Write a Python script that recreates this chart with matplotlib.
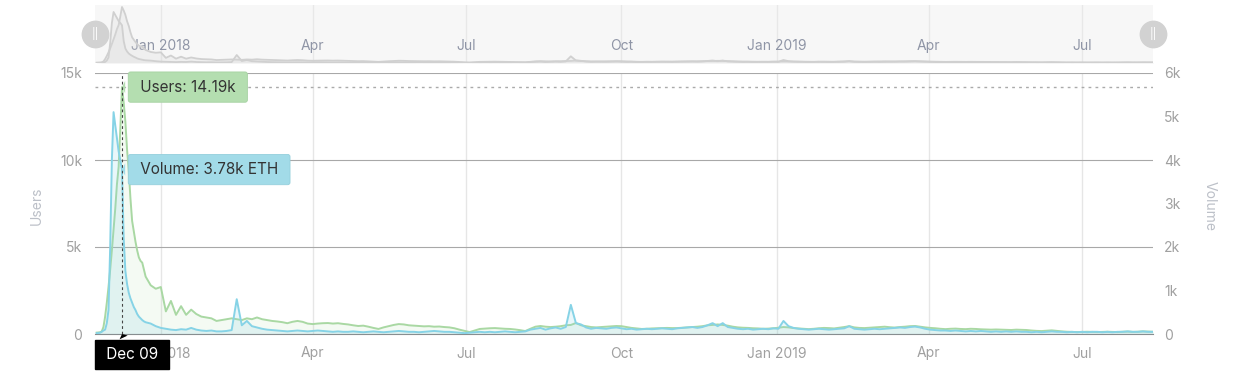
import matplotlib
matplotlib.use("Agg")
import matplotlib.pyplot as plt
import pandas as pd

plt.rcParams['font.family'] = ['Inter', 'DejaVu Sans']

# daily values around the launch peak (Nov 24 - Dec 23, 2017), in thousands
users_a = [0.08, 0.09, 0.1, 0.15, 0.4, 1.0, 1.8, 2.7, 3.7, 4.8,
           6.0, 7.2, 8.6, 9.6, 11.8, 14.19, 13.3, 12.2, 10.6, 9.4,
           7.8, 6.5, 5.9, 5.3, 4.8, 4.4, 4.2, 4.1, 3.7, 3.3]
volume_a = [0.02, 0.02, 0.03, 0.05, 0.08, 0.1, 0.25, 0.55, 2.0, 4.0,
            5.1, 4.8, 4.5, 4.2, 4.0, 3.78, 2.2, 1.45, 1.15, 0.95,
            0.82, 0.72, 0.62, 0.55, 0.46, 0.4, 0.36, 0.32, 0.29, 0.27]

# every 3 days from Dec 26, 2017, in thousands
users_b = [2.8, 2.6, 2.7, 1.3, 1.9, 1.1, 1.6, 1.1, 1.4, 1.15,
           1.0, 0.95, 0.9, 0.75, 0.8, 0.85, 0.9, 0.85, 0.8, 0.9,
           0.85, 0.95, 0.85, 0.8, 0.75, 0.72, 0.68, 0.62, 0.7, 0.75,
           0.7, 0.6, 0.57, 0.6, 0.62, 0.63, 0.6, 0.62, 0.58, 0.55,
           0.5, 0.46, 0.48, 0.42, 0.35, 0.29, 0.38, 0.45, 0.52, 0.57,
           0.55, 0.5, 0.48, 0.46, 0.44, 0.45, 0.42, 0.43, 0.4, 0.38,
           0.33, 0.25, 0.18, 0.11, 0.2, 0.29, 0.31, 0.33, 0.34, 0.32,
           0.3, 0.29, 0.26, 0.22, 0.17, 0.3, 0.42, 0.46, 0.42, 0.4,
           0.42, 0.45, 0.5, 0.52, 0.63, 0.5, 0.45, 0.4, 0.38, 0.4,
           0.42, 0.44, 0.46, 0.45, 0.4, 0.35, 0.32, 0.29, 0.3, 0.32,
           0.33, 0.34, 0.35, 0.34, 0.34, 0.36, 0.38, 0.4, 0.42, 0.45,
           0.5, 0.52, 0.55, 0.52, 0.48, 0.42, 0.38, 0.36, 0.35, 0.33,
           0.32, 0.3, 0.31, 0.33, 0.36, 0.4, 0.38, 0.34, 0.32, 0.3,
           0.28, 0.3, 0.33, 0.35, 0.34, 0.32, 0.36, 0.4, 0.45, 0.38,
           0.35, 0.34, 0.36, 0.38, 0.4, 0.42, 0.39, 0.37, 0.4, 0.42,
           0.45, 0.46, 0.42, 0.38, 0.35, 0.33, 0.3, 0.28, 0.3, 0.31,
           0.29, 0.28, 0.3, 0.29, 0.27, 0.26, 0.25, 0.26, 0.25, 0.24,
           0.23, 0.25, 0.24, 0.23, 0.2, 0.18, 0.17, 0.19, 0.21, 0.18,
           0.15, 0.13, 0.12, 0.11, 0.12, 0.13, 0.12, 0.11, 0.12, 0.13,
           0.12, 0.11, 0.13, 0.14, 0.12, 0.13, 0.15, 0.14, 0.13]
volume_b = [0.24, 0.18, 0.14, 0.12, 0.1, 0.09, 0.11, 0.1, 0.14, 0.1,
            0.08, 0.07, 0.08, 0.06, 0.06, 0.07, 0.09, 0.8, 0.2, 0.3,
            0.18, 0.15, 0.12, 0.1, 0.09, 0.08, 0.07, 0.06, 0.07, 0.08,
            0.07, 0.06, 0.07, 0.08, 0.07, 0.06, 0.05, 0.06, 0.05, 0.05,
            0.06, 0.05, 0.04, 0.05, 0.06, 0.05, 0.04, 0.05, 0.06, 0.07,
            0.06, 0.05, 0.05, 0.04, 0.05, 0.06, 0.07, 0.06, 0.05, 0.05,
            0.04, 0.03, 0.02, 0.03, 0.04, 0.05, 0.04, 0.05, 0.04, 0.05,
            0.06, 0.05, 0.04, 0.05, 0.06, 0.1, 0.12, 0.14, 0.1, 0.13,
            0.15, 0.12, 0.16, 0.67, 0.25, 0.22, 0.15, 0.12, 0.14, 0.13,
            0.12, 0.14, 0.15, 0.13, 0.11, 0.12, 0.1, 0.11, 0.12, 0.11,
            0.12, 0.13, 0.12, 0.11, 0.13, 0.14, 0.15, 0.16, 0.14, 0.16,
            0.2, 0.25, 0.18, 0.25, 0.16, 0.14, 0.12, 0.11, 0.12, 0.1,
            0.11, 0.12, 0.11, 0.13, 0.12, 0.3, 0.18, 0.14, 0.12, 0.11,
            0.1, 0.11, 0.12, 0.11, 0.1, 0.11, 0.12, 0.13, 0.18, 0.12,
            0.11, 0.1, 0.11, 0.12, 0.11, 0.12, 0.13, 0.14, 0.15, 0.14,
            0.16, 0.17, 0.15, 0.12, 0.1, 0.09, 0.08, 0.08, 0.07, 0.08,
            0.07, 0.06, 0.07, 0.06, 0.07, 0.06, 0.05, 0.06, 0.05, 0.06,
            0.05, 0.06, 0.05, 0.05, 0.04, 0.05, 0.04, 0.05, 0.06, 0.05,
            0.05, 0.04, 0.05, 0.04, 0.05, 0.04, 0.05, 0.05, 0.04, 0.05,
            0.04, 0.05, 0.05, 0.06, 0.05, 0.05, 0.06, 0.05, 0.05]

dates = pd.date_range('2017-11-24', periods=len(users_a), freq='D').append(
    pd.date_range('2017-12-26', periods=len(users_b), freq='3D'))
users = users_a + users_b
volume = volume_a + volume_b

tick_dates = pd.to_datetime(['2018-01-01', '2018-04-01', '2018-07-01', '2018-10-01',
                             '2019-01-01', '2019-04-01', '2019-07-01'])
tick_labels = ['Jan 2018', 'Apr', 'Jul', 'Oct', 'Jan 2019', 'Apr', 'Jul']

hover_date = pd.Timestamp('2017-12-09')
hover_users = 14.19
hover_volume = 3.78

x_start = pd.Timestamp('2017-11-23')
x_end = pd.Timestamp('2019-08-12')

GREEN = '#a9d8a3'
CYAN = '#86d3e6'

W, H = 1238, 380
fig = plt.figure(figsize=(W / 100, H / 100), dpi=100)
L, R = 95 / W, 1153 / W
ax = fig.add_axes([L, 1 - 334 / H, R - L, (334 - 73) / H])
ax2 = ax.twinx()
nav = fig.add_axes([L, 1 - 63 / H, R - L, (63 - 5) / H])
nav2 = nav.twinx()

# main chart
ax.fill_between(dates, users, color=GREEN, alpha=0.12, lw=0)
ax.plot(dates, users, color=GREEN, lw=1.4)
ax2.fill_between(dates, volume, color=CYAN, alpha=0.18, lw=0)
ax2.plot(dates, volume, color=CYAN, lw=1.4)

ax.set_xlim(x_start, x_end)
ax.set_ylim(0, 15)
ax2.set_ylim(0, 6)
ax.set_yticks([0, 5, 10, 15])
ax.set_yticklabels(['0', '5k', '10k', '15k'])
ax2.set_yticks(range(7))
ax2.set_yticklabels(['0', '1k', '2k', '3k', '4k', '5k', '6k'])
ax2.set_yticks([1, 3, 5], minor=True)
ax.set_xticks(tick_dates)
ax.set_xticklabels(tick_labels)

for a in (ax, ax2, nav, nav2):
    for s in a.spines.values():
        s.set_visible(False)

ax.grid(axis='y', color='#a8a8a8', lw=0.8)
ax.grid(axis='x', color='#e6e6e6', lw=1)
ax.set_axisbelow(True)
ax2.grid(axis='y', which='minor', color='#e8e8e8', lw=1)
ax2.set_axisbelow(True)
ax.tick_params(axis='both', length=0, colors='#a0a0a0', labelsize=10)
ax.tick_params(axis='y', pad=9)
ax.tick_params(axis='x', pad=9)
ax2.tick_params(axis='y', which='both', length=0, colors='#a0a0a0', labelsize=10, pad=8)
ax.spines['bottom'].set_visible(True)
ax.spines['bottom'].set_color('#888888')
ax.spines['bottom'].set_linewidth(0.8)

ax.set_ylabel('Users', color='#bcc0c8', fontsize=10)
ax.yaxis.set_label_coords(-(95 - 44) / 1058, 0.49)
ax2.set_ylabel('Volume', color='#bcc0c8', fontsize=10, rotation=270, va='center')
ax2.yaxis.set_label_coords((1210 - 95) / 1058, 0.49)

# crosshair
ax2.axvline(hover_date, color='#444444', lw=0.8, ls=(0, (2.5, 2.5)))
ax.axhline(hover_users, color='#aaaaaa', lw=1, ls=(0, (2, 3)))

# tooltips
tip_box = dict(boxstyle='round,pad=0.5,rounding_size=0.15', lw=0.6)
ax.annotate(' Users: 14.19k ', xy=(hover_date, hover_users), xytext=(10, 0),
            textcoords='offset points', ha='left', va='center', fontsize=11,
            color='#333333', zorder=10,
            bbox=dict(tip_box, fc='#b4deb0', ec='#a6d2a2'),
            arrowprops=dict(arrowstyle='wedge,tail_width=0.9', fc='#b4deb0', ec='none',
                            shrinkB=0, mutation_scale=10))
ax2.annotate(' Volume: 3.78k ETH ', xy=(hover_date, hover_volume), xytext=(10, 0),
             textcoords='offset points', ha='left', va='center', fontsize=11,
             color='#333333', zorder=10,
             bbox=dict(tip_box, fc='#a2dbe8', ec='#95cfdc'),
             arrowprops=dict(arrowstyle='wedge,tail_width=0.9', fc='#a2dbe8', ec='none',
                             shrinkB=0, mutation_scale=10))
ax2.annotate(' Dec 09 ', xy=(hover_date, 0), xycoords=('data', 'axes fraction'),
             xytext=(7, -15), textcoords='offset points', ha='center', va='center',
             fontsize=11, color='white', zorder=10, annotation_clip=False,
             bbox=dict(boxstyle='square,pad=0.45', fc='black', ec='black'),
             arrowprops=dict(arrowstyle='wedge,tail_width=0.8', fc='black', ec='none',
                             shrinkB=0, mutation_scale=8))

# navigator
nav.set_facecolor('#f7f7f7')
nav.fill_between(dates, users, color='#d8d8d8', alpha=0.25, lw=0)
nav.plot(dates, users, color='#d0d0d0', lw=1.3)
nav2.fill_between(dates, volume, color='#d8d8d8', alpha=0.25, lw=0)
nav2.plot(dates, volume, color='#d0d0d0', lw=1.3)
nav.set_xlim(x_start, x_end)
nav.set_ylim(0, 14.7)
nav2.set_ylim(0, 5.8)
nav.set_yticks([])
nav2.set_yticks([])
nav.set_xticks(tick_dates)
nav.set_xticklabels(tick_labels)
nav.tick_params(axis='x', length=0, colors='#8f95a6', labelsize=10, pad=-17)
nav.grid(axis='x', color='#e8e8e8', lw=1)
nav.set_axisbelow(True)
for xh in (0, 1):
    nav2.plot([xh], [0.5], transform=nav2.transAxes, marker='o', ms=19, mfc='#d2d2d2',
              mec='#d2d2d2', clip_on=False, zorder=5)
    nav2.text(xh, 0.5, '||', transform=nav2.transAxes, ha='center', va='center',
              color='white', fontsize=8, zorder=6, clip_on=False)

fig.savefig('out.png', dpi=100)
